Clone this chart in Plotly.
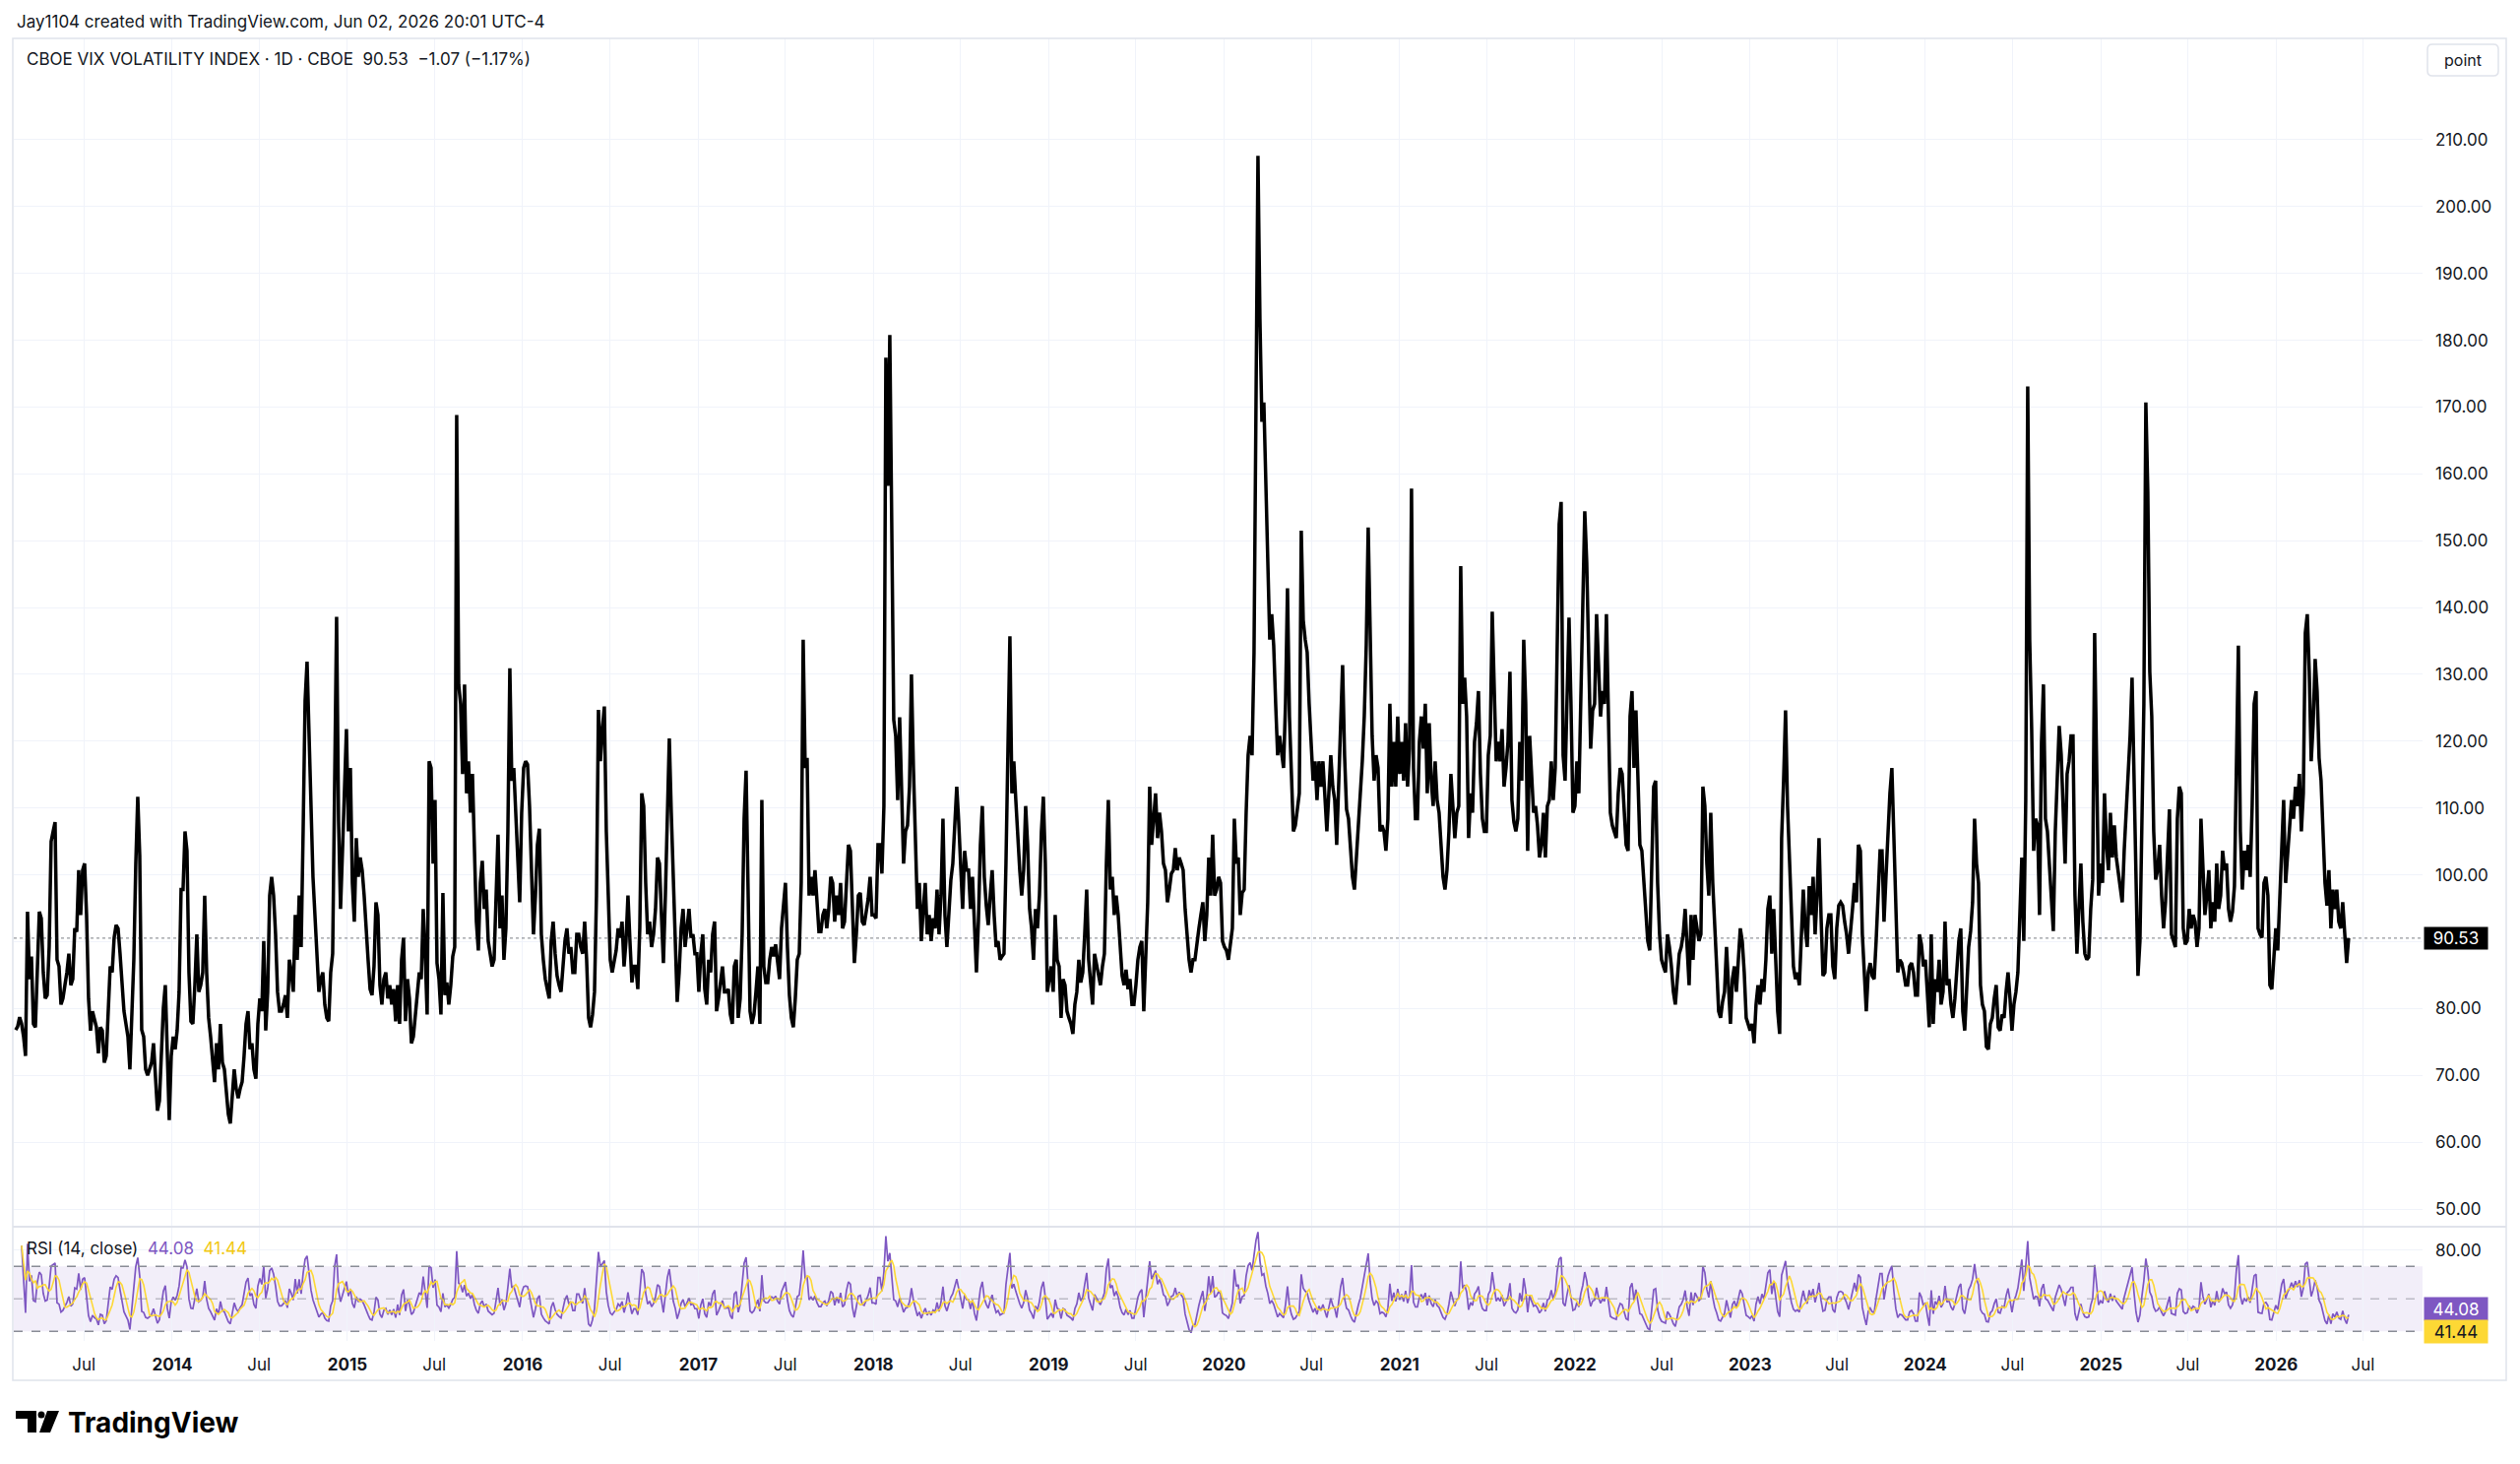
import pandas as pd
import plotly.graph_objects as go
from plotly.subplots import make_subplots

# ---------------- DATA ----------------
# CBOE VIX index close, sampled every ~3 trading days, Feb 2013 -> Jun 2026
vix_2013_2014 = [76.8, 77.3, 78.7, 77.7, 75.8, 72.9, 94.5, 84.4, 87.8, 77.7, 77.2, 87.3, 94.5, 93.5, 85.4, 81.5,
                 82.0, 89.2, 105.0, 106.5, 107.9, 87.3, 86.3, 80.6, 81.5, 83.5, 85.4, 88.2, 83.5, 84.4, 92.0, 91.5,
                 100.7, 94.0, 100.7, 101.7, 94.0, 81.5, 76.7, 79.6, 78.1, 77.2, 73.3, 77.2, 76.7, 71.9, 72.9, 78.6,
                 86.3, 85.4, 90.6, 92.5, 92.0, 88.2, 83.5, 79.6, 77.7, 75.8, 70.9, 77.7, 87.3, 101.7, 111.7, 102.9,
                 76.8, 75.8, 70.9, 70.0, 70.9, 71.9, 74.8, 70.0, 64.7, 66.2, 72.9, 80.1, 83.5, 70.9, 63.3, 72.9,
                 75.8, 73.9, 76.7, 82.5, 97.8, 97.8, 106.5, 103.6, 85.4, 78.1, 77.7, 83.5, 91.1, 82.5, 83.5, 85.4,
                 96.9, 85.4, 78.6, 75.8, 71.9, 69.0, 74.8, 70.9, 77.7, 71.9, 70.9, 67.1, 64.2, 62.8, 66.2, 70.9,
                 68.0, 66.6, 68.0, 69.0, 72.9, 77.7, 79.6, 73.9, 74.8, 70.9, 69.5, 77.7, 81.5, 79.6, 90.1, 76.7,
                 82.5, 96.9, 99.7, 96.9, 91.1, 82.5, 79.6, 79.6, 80.6, 82.0, 78.6, 87.3, 85.4, 82.5, 94.0, 87.3,
                 96.9, 89.2, 106.5, 126.0, 131.9, 120.8, 108.4, 99.7]
vix_2014_2016 = [94.0, 89.2, 82.5, 84.4, 85.4, 80.6, 78.6, 78.1, 85.4, 88.2, 117.9, 138.6, 108.0, 94.9, 103.6, 115.1,
                 121.8, 106.5, 116.0, 98.8, 93.0, 105.5, 99.7, 102.6, 100.7, 96.9, 91.1, 87.3, 82.9, 82.0, 86.3, 95.9,
                 94.0, 83.5, 80.6, 84.4, 85.4, 81.5, 83.5, 80.6, 82.9, 78.1, 83.5, 77.7, 87.3, 90.6, 78.1, 84.4,
                 81.5, 74.8, 75.8, 78.6, 82.5, 85.4, 84.4, 94.9, 88.2, 79.1, 117.0, 116.0, 101.7, 111.2, 86.8, 84.4,
                 79.1, 97.3, 82.0, 83.9, 80.6, 83.5, 87.8, 89.2, 168.8, 128.5, 125.6, 115.1, 128.5, 112.2, 117.0, 109.3,
                 115.1, 101.7, 93.0, 88.7, 98.8, 102.1, 94.9, 97.8, 90.1, 88.2, 86.3, 87.3, 96.9, 106.0, 92.0, 96.9,
                 87.3, 92.0, 106.5, 130.9, 114.1, 116.0, 109.3, 102.6, 95.9, 109.3, 116.0, 117.0, 116.5, 110.3, 99.3, 91.1,
                 96.9, 104.5, 106.9, 91.1, 87.3, 84.4, 82.9, 81.5, 90.1, 93.0, 88.2, 84.9, 83.5, 82.5, 86.3, 90.1,
                 92.0, 88.2, 89.2, 85.4, 85.4, 91.1, 91.1, 89.2, 88.2, 93.0, 87.3, 78.6, 77.2, 79.1, 82.5, 96.9,
                 124.7, 117.0, 121.8, 125.2, 106.5, 94.9]
vix_2016_2018 = [87.3, 85.4, 87.3, 88.7, 92.0, 90.6, 93.0, 86.3, 90.1, 96.9, 90.1, 83.9, 86.3, 86.3, 82.9, 92.0,
                 112.2, 110.3, 98.8, 91.1, 93.0, 89.2, 91.1, 94.9, 102.6, 101.7, 94.0, 86.8, 96.9, 111.2, 120.4, 109.3,
                 98.3, 92.0, 81.0, 85.4, 92.0, 94.9, 89.2, 92.0, 94.9, 90.6, 91.1, 88.2, 88.2, 82.5, 88.2, 91.1,
                 82.9, 80.6, 87.3, 85.4, 91.1, 93.0, 79.6, 81.5, 84.4, 86.3, 82.5, 82.5, 82.9, 79.1, 77.7, 86.3,
                 87.3, 78.6, 81.5, 91.1, 108.4, 115.6, 97.8, 79.6, 77.7, 79.1, 82.5, 86.3, 77.7, 111.2, 86.3, 83.9,
                 83.9, 87.3, 89.2, 87.8, 89.6, 86.3, 84.4, 92.0, 95.9, 98.8, 89.2, 82.0, 78.6, 77.2, 81.5, 87.3,
                 88.2, 98.8, 135.2, 116.0, 117.5, 96.9, 99.7, 96.9, 100.7, 94.9, 91.5, 91.5, 94.0, 94.9, 92.0, 94.9,
                 99.7, 98.8, 93.0, 96.9, 94.0, 98.8, 92.0, 93.0, 99.7, 104.5, 103.6, 93.0, 86.8, 91.1, 96.9, 97.3,
                 93.0, 92.5, 94.5, 96.4, 99.7, 94.0, 94.0, 93.5, 104.5, 104.5, 100.2, 110.3, 177.4, 158.2, 180.8, 154.4,
                 123.2, 120.8, 111.2, 123.6, 114.1, 101.7]
vix_2018_2019 = [106.5, 107.4, 113.2, 130.0, 116.0, 106.5, 94.9, 98.8, 90.1, 94.9, 98.8, 91.1, 94.0, 90.1, 93.5, 92.0,
                 97.8, 91.1, 96.9, 108.4, 94.0, 89.2, 94.9, 99.2, 101.7, 106.5, 113.2, 107.9, 101.7, 94.9, 103.6, 100.7,
                 100.7, 94.9, 99.7, 91.1, 85.4, 93.0, 104.5, 110.3, 99.7, 95.4, 92.5, 96.9, 100.7, 94.0, 89.2, 90.1,
                 87.3, 87.8, 88.2, 101.7, 116.0, 135.7, 112.2, 117.0, 111.2, 105.5, 100.7, 96.9, 100.7, 110.3, 104.5, 94.9,
                 92.0, 87.3, 94.9, 92.0, 96.9, 106.5, 111.7, 101.7, 82.5, 84.4, 86.3, 82.5, 94.0, 87.3, 86.3, 78.6,
                 84.4, 83.5, 79.6, 78.6, 77.7, 76.2, 80.6, 82.5, 87.3, 83.9, 85.4, 91.1, 97.8, 87.3, 83.5, 80.6,
                 88.2, 86.8, 84.9, 83.5, 86.3, 88.2, 101.7, 111.2, 97.8, 99.7, 94.0, 96.9, 94.0, 88.2, 84.9, 83.5,
                 85.8, 82.9, 84.4, 80.6, 80.6, 83.5, 87.3, 89.2, 90.1, 79.6, 87.3, 95.9, 113.2, 104.5, 108.4, 112.2,
                 105.5, 109.3, 106.5, 101.7, 100.7, 95.9, 97.8, 100.2, 100.7, 104.0, 100.7, 102.6, 101.7, 100.7, 94.9, 91.1,
                 87.3, 85.4, 87.3, 87.3, 90.1, 92.0]
vix_2019_2021 = [94.0, 95.9, 90.1, 94.0, 102.6, 96.9, 106.0, 96.9, 97.8, 99.7, 98.8, 90.1, 89.2, 88.7, 87.3, 90.1,
                 92.0, 108.4, 101.7, 102.6, 94.0, 97.3, 97.8, 109.3, 117.9, 120.8, 117.9, 133.3, 165.9, 207.6, 183.2, 167.8,
                 170.7, 157.3, 148.6, 135.2, 139.0, 134.3, 125.6, 117.9, 120.8, 117.9, 116.0, 125.6, 142.9, 123.7, 113.2, 106.5,
                 107.4, 109.8, 112.2, 151.5, 138.1, 135.2, 133.3, 125.6, 118.9, 114.1, 117.0, 111.2, 117.0, 113.2, 117.0, 111.2,
                 106.5, 112.2, 117.9, 113.2, 111.2, 104.5, 113.2, 123.7, 131.4, 117.9, 109.8, 108.4, 103.6, 99.7, 97.8, 102.6,
                 106.5, 110.3, 117.0, 123.7, 134.3, 152.0, 135.2, 120.8, 114.1, 117.9, 116.0, 106.5, 107.4, 106.5, 103.6, 108.4,
                 125.6, 113.2, 119.9, 113.2, 123.7, 115.1, 119.9, 114.1, 122.7, 113.2, 118.9, 157.8, 116.0, 108.4, 108.4, 119.9,
                 123.7, 118.9, 125.6, 112.2, 122.7, 114.1, 110.3, 117.0, 111.2, 109.3, 104.5, 99.7, 97.8, 100.7, 106.5, 115.1,
                 110.3, 105.5, 109.3, 110.3, 146.2, 125.6, 129.5, 123.7, 105.5, 112.2, 109.3, 119.9, 122.7, 127.5, 115.1, 108.4,
                 106.5, 106.5, 117.9, 120.8, 139.4, 127.5]
vix_2021_2023 = [117.0, 119.9, 117.0, 121.8, 113.2, 116.0, 119.9, 130.4, 111.2, 107.9, 106.5, 108.4, 119.9, 114.1, 135.2, 125.6,
                 103.6, 120.8, 116.0, 109.3, 110.3, 107.4, 102.6, 104.5, 109.3, 102.6, 110.3, 111.2, 117.0, 111.2, 116.0, 135.2,
                 152.5, 155.8, 117.9, 114.1, 126.6, 138.5, 125.6, 109.3, 110.3, 117.0, 112.2, 125.6, 135.2, 154.4, 146.7, 130.4,
                 118.9, 124.6, 125.6, 139.0, 129.5, 123.7, 127.5, 125.6, 139.0, 126.6, 109.3, 107.4, 106.5, 105.5, 112.2, 116.0,
                 115.1, 110.3, 104.5, 103.6, 123.7, 127.5, 116.0, 124.6, 116.0, 104.5, 103.6, 98.8, 94.9, 90.1, 88.7, 101.7,
                 113.2, 114.1, 98.8, 91.1, 87.3, 86.3, 85.4, 91.1, 89.2, 86.3, 82.5, 80.6, 84.4, 88.2, 89.2, 91.1,
                 94.9, 88.2, 83.5, 94.0, 87.3, 94.0, 92.0, 90.1, 91.1, 113.2, 110.3, 101.7, 96.9, 109.3, 98.8, 91.1,
                 86.3, 79.6, 78.6, 81.0, 82.5, 89.2, 83.5, 77.7, 84.4, 86.3, 82.5, 87.3, 92.0, 90.1, 85.4, 78.6,
                 77.7, 76.7, 77.7, 74.8, 80.6, 83.5, 80.6, 84.4, 82.5, 87.3, 94.9, 96.9, 88.2, 94.9, 87.3, 79.6,
                 76.2, 105.5, 114.1, 124.6, 110.3, 101.7]
vix_2023_2024 = [93.0, 86.3, 84.4, 85.4, 83.5, 91.1, 97.8, 92.0, 89.2, 98.3, 94.0, 99.7, 91.1, 96.9, 105.5, 94.0,
                 84.9, 85.4, 92.0, 94.0, 94.0, 86.3, 84.4, 92.0, 95.4, 95.9, 95.4, 93.0, 91.1, 88.2, 91.1, 94.9,
                 98.8, 95.9, 104.5, 103.6, 91.1, 85.4, 79.6, 85.4, 86.8, 84.9, 84.4, 90.1, 96.9, 103.6, 103.6, 93.0,
                 99.7, 107.4, 112.2, 116.0, 104.5, 93.0, 85.4, 87.3, 86.8, 85.4, 83.5, 83.5, 86.3, 86.8, 85.4, 82.0,
                 82.0, 91.1, 89.6, 86.3, 87.3, 82.5, 77.2, 91.1, 77.7, 84.4, 82.5, 87.3, 80.6, 82.5, 93.0, 83.5,
                 84.4, 80.6, 78.6, 81.5, 86.3, 90.1, 92.0, 79.6, 76.7, 82.5, 89.2, 91.6, 95.9, 108.4, 101.7, 98.8,
                 83.5, 80.6, 79.6, 74.3, 73.9, 77.7, 78.6, 81.5, 83.5, 77.2, 76.7, 79.1, 78.6, 82.5, 85.4, 81.5,
                 76.7, 80.6, 82.5, 85.4, 94.0, 102.6, 90.1, 111.2, 173.1, 135.2, 121.8, 103.6, 108.4, 107.4, 94.0, 119.9,
                 128.5, 108.4, 106.5, 101.7, 96.9, 91.6, 106.5, 115.1, 122.3, 118.0, 111.2, 101.7, 115.1, 117.0, 120.8, 120.8,
                 96.9, 88.2, 94.9, 101.7, 93.0, 88.2]
vix_2024_2026 = [87.3, 87.7, 94.9, 99.3, 136.2, 119.9, 96.9, 101.7, 98.8, 112.2, 104.5, 100.7, 109.3, 102.6, 107.4, 102.6,
                 100.2, 98.3, 95.9, 103.6, 109.3, 115.1, 120.8, 129.5, 114.1, 96.9, 84.9, 90.1, 106.5, 125.6, 170.7, 157.3,
                 130.4, 123.7, 106.5, 99.3, 100.7, 104.5, 96.9, 92.0, 95.9, 102.6, 109.8, 91.1, 90.1, 89.2, 108.4, 113.2,
                 112.2, 92.0, 89.6, 90.1, 94.9, 92.0, 94.0, 93.0, 89.2, 92.0, 108.4, 99.7, 94.0, 96.9, 100.7, 92.0,
                 95.9, 93.0, 101.7, 94.9, 96.9, 103.6, 100.7, 101.7, 94.9, 93.0, 94.5, 98.3, 116.0, 134.3, 106.5, 97.8,
                 103.6, 100.7, 104.5, 99.7, 110.3, 125.6, 127.5, 92.0, 91.1, 90.6, 98.8, 99.7, 96.9, 83.5, 82.9, 87.3,
                 92.0, 88.7, 96.9, 106.5, 111.2, 98.8, 103.6, 106.5, 111.2, 108.4, 113.2, 110.3, 115.1, 106.5, 112.2, 136.2,
                 139.0, 130.4, 117.0, 122.7, 132.3, 127.5, 117.5, 114.1, 107.4, 98.8, 95.4, 100.7, 92.0, 97.8, 94.9, 97.8,
                 93.0, 92.0, 95.9, 90.1, 86.8, 90.53]

segments = [vix_2013_2014, vix_2014_2016, vix_2016_2018, vix_2018_2019,
            vix_2019_2021, vix_2021_2023, vix_2023_2024, vix_2024_2026]
expected = [152, 150, 150, 150, 150, 150, 150, 134]
for seg, n in zip(segments, expected):
    assert len(seg) == n, (len(seg), n)

close = [v for seg in segments for v in seg]
first_date, last_date = "2013-02-09", "2026-06-01"

price_ticks = [50, 60, 70, 80, 90, 100, 110, 120, 130, 140, 150, 160, 170, 180, 190, 200, 210]
last_close, change, change_pct = 90.53, -1.07, -1.17
rsi_last, rsi_ma_last = 44.08, 41.44
time_tick_dates = ["2013-07-01", "2014-01-01", "2014-07-01", "2015-01-01", "2015-07-01", "2016-01-01",
                   "2016-07-01", "2017-01-01", "2017-07-01", "2018-01-01", "2018-07-01", "2019-01-01",
                   "2019-07-01", "2020-01-01", "2020-07-01", "2021-01-01", "2021-07-01", "2022-01-01",
                   "2022-07-01", "2023-01-01", "2023-07-01", "2024-01-01", "2024-07-01", "2025-01-01",
                   "2025-07-01", "2026-01-01", "2026-07-01"]
time_tick_labels = ["Jul", "2014", "Jul", "2015", "Jul", "2016", "Jul", "2017", "Jul", "2018", "Jul", "2019",
                    "Jul", "2020", "Jul", "2021", "Jul", "2022", "Jul", "2023", "Jul", "2024", "Jul", "2025",
                    "Jul", "2026", "Jul"]

# ---------------- derived indicator: RSI of close + its moving average ----------------
dates = pd.date_range(first_date, last_date, periods=len(close))
s = pd.Series(close)
d = s.diff()
n_rsi = 9   # Wilder period in samples (data is sampled every ~3 trading days)
n_ma = 5
up = d.clip(lower=0).ewm(alpha=1 / n_rsi, adjust=False).mean()
dn = (-d).clip(lower=0).ewm(alpha=1 / n_rsi, adjust=False).mean()
rsi = 100 - 100 / (1 + up / dn)
rsi.iloc[:3] = None          # warm-up samples
rsi_ma = rsi.rolling(n_ma, min_periods=1).mean()

# ---------------- layout geometry ----------------
W, H = 2560, 1487
L, R, T, B = 14, 2461, 39, 1362
SEP = 1246


def px(x):
    return (x - L) / (R - L)


def py(y):
    return (B - y) / (B - T)


FONT = "Inter, Roboto, 'Noto Sans', sans-serif"
TXT = "#131722"
GRID = "#f0f3fa"
PURPLE = "#7E57C2"
YELLOW = "#FDD835"

fig = make_subplots(rows=2, cols=1, shared_xaxes=True, vertical_spacing=0,
                    row_heights=[SEP - T, B - SEP])

fig.add_trace(go.Scatter(x=dates, y=close, mode="lines",
                         line=dict(color="#000000", width=3.5), hoverinfo="skip"), row=1, col=1)
fig.add_trace(go.Scatter(x=dates, y=rsi, mode="lines",
                         line=dict(color=PURPLE, width=1.7), hoverinfo="skip"), row=2, col=1)
fig.add_trace(go.Scatter(x=dates, y=rsi_ma, mode="lines",
                         line=dict(color=YELLOW, width=1.6), hoverinfo="skip"), row=2, col=1)

xrange = ["2013-02-05", "2026-11-02"]
tick_text = [f"<b>{t}</b>" if t != "Jul" else t for t in time_tick_labels]
fig.update_xaxes(range=xrange, tickvals=time_tick_dates, ticktext=tick_text, showgrid=True,
                 gridcolor=GRID, gridwidth=1, zeroline=False, showline=False, ticks="",
                 tickfont=dict(family=FONT, size=17, color=TXT), ticklabelstandoff=12)
fig.update_xaxes(showticklabels=False, row=1, col=1)

fig.update_yaxes(row=1, col=1, side="right", range=[47.35, 225.17], tickvals=price_ticks,
                 ticktext=["" if v == 90 else f"{v:.2f}" for v in price_ticks],
                 showgrid=True, gridcolor=GRID, zeroline=False, showline=False, ticks="",
                 tickfont=dict(family=FONT, size=17, color=TXT), ticklabelstandoff=12)
fig.update_yaxes(row=2, col=1, side="right", range=[24.1, 94.4], tickvals=[80], ticktext=["80.00"],
                 showgrid=True, gridcolor=GRID, zeroline=False, showline=False, ticks="",
                 tickfont=dict(family=FONT, size=17, color=TXT), ticklabelstandoff=12)

shapes = []
# RSI band & levels
shapes.append(dict(type="rect", xref="x2 domain", yref="y2", x0=0, x1=1, y0=30, y1=70,
                   fillcolor="rgba(126,87,194,0.10)", line=dict(width=0), layer="below"))
for lvl, col in [(70, "#8a8d96"), (50, "rgba(120,123,134,0.45)"), (30, "#8a8d96")]:
    shapes.append(dict(type="line", xref="x2 domain", yref="y2", x0=0, x1=1, y0=lvl, y1=lvl,
                       line=dict(color=col, width=1.3, dash="dash")))
# last price dotted line
shapes.append(dict(type="line", xref="x domain", yref="y", x0=0, x1=1, y0=last_close, y1=last_close,
                   line=dict(color="rgba(19,23,34,0.55)", width=1, dash="dot")))
# frame + pane separator
frame_col = "#e0e3eb"
shapes.append(dict(type="rect", xref="paper", yref="paper", x0=px(13), x1=px(2546), y0=py(39), y1=py(1402),
                   line=dict(color=frame_col, width=1.5), fillcolor="rgba(0,0,0,0)"))
shapes.append(dict(type="line", xref="paper", yref="paper", x0=px(13), x1=px(2546), y0=py(SEP), y1=py(SEP),
                   line=dict(color=frame_col, width=2)))
# "point" button (rounded rect)
bx0, bx1, by0, by1, rr = 2466, 2538, 45, 77, 5
path = (f"M {px(bx0 + rr)},{py(by0)} L {px(bx1 - rr)},{py(by0)} Q {px(bx1)},{py(by0)} {px(bx1)},{py(by0 + rr)} "
        f"L {px(bx1)},{py(by1 - rr)} Q {px(bx1)},{py(by1)} {px(bx1 - rr)},{py(by1)} "
        f"L {px(bx0 + rr)},{py(by1)} Q {px(bx0)},{py(by1)} {px(bx0)},{py(by1 - rr)} "
        f"L {px(bx0)},{py(by0 + rr)} Q {px(bx0)},{py(by0)} {px(bx0 + rr)},{py(by0)} Z")
shapes.append(dict(type="path", xref="paper", yref="paper", path=path,
                   line=dict(color=frame_col, width=1.5), fillcolor="white"))
# TradingView logo mark
shapes.append(dict(type="rect", xref="paper", yref="paper", x0=px(16), x1=px(37), y0=py(1441), y1=py(1433),
                   fillcolor="#000", line=dict(width=0)))
shapes.append(dict(type="rect", xref="paper", yref="paper", x0=px(28), x1=px(37), y0=py(1455), y1=py(1433),
                   fillcolor="#000", line=dict(width=0)))
shapes.append(dict(type="circle", xref="paper", yref="paper", x0=px(38.5), x1=px(45.5), y0=py(1440.5), y1=py(1433.5),
                   fillcolor="#000", line=dict(width=0)))
shapes.append(dict(type="path", xref="paper", yref="paper",
                   path=f"M {px(48)},{py(1433)} L {px(60)},{py(1433)} L {px(51)},{py(1455)} L {px(40)},{py(1455)} Z",
                   fillcolor="#000", line=dict(width=0)))

ann = []
ann.append(dict(xref="paper", yref="paper", x=px(15), y=py(22), xanchor="left", yanchor="middle",
                text="Jay1104 created with TradingView.com, Jun 02, 2026 20:01 UTC-4", showarrow=False,
                font=dict(family=FONT, size=17, color=TXT)))
legend_txt = (f"CBOE VIX VOLATILITY INDEX · 1D · CBOE\u00a0\u00a0{last_close:.2f}\u00a0\u00a0"
              f"\u2212{abs(change):.2f} (\u2212{abs(change_pct):.2f}%)")
ann.append(dict(xref="paper", yref="paper", x=px(25), y=py(60), xanchor="left", yanchor="middle",
                text=legend_txt, showarrow=False, font=dict(family=FONT, size=17, color=TXT)))
ann.append(dict(xref="paper", yref="paper", x=px(2502), y=py(61), xanchor="center", yanchor="middle",
                text="point", showarrow=False, font=dict(family=FONT, size=16, color=TXT)))
ann.append(dict(xref="paper", yref="paper", x=px(25), y=py(1268), xanchor="left", yanchor="middle",
                text=(f"RSI (14, close)\u00a0\u00a0<span style='color:{PURPLE}'>{rsi_last:.2f}</span>"
                      f"\u00a0\u00a0<span style='color:#F2C811'>{rsi_ma_last:.2f}</span>"),
                showarrow=False, font=dict(family=FONT, size=17, color=TXT)))
# last value tags on the price scale
ann.append(dict(xref="paper", yref="y", x=1, y=last_close, xanchor="left", yanchor="middle", xshift=1,
                text=f"{last_close:.2f}", showarrow=False, bgcolor="#000000", width=62, height=20, borderpad=1,
                font=dict(family=FONT, size=17, color="#ffffff")))
ann.append(dict(xref="paper", yref="y2", x=1, y=rsi_last, xanchor="left", yanchor="middle", xshift=1,
                text=f"{rsi_last:.2f}", showarrow=False, bgcolor=PURPLE, width=62, height=21, borderpad=1,
                font=dict(family=FONT, size=17, color="#ffffff")))
ann.append(dict(xref="paper", yref="y2", x=1, y=rsi_ma_last, xanchor="left", yanchor="middle", xshift=1,
                yshift=-19, text=f"{rsi_ma_last:.2f}", showarrow=False, bgcolor=YELLOW, width=62, height=21,
                borderpad=1, font=dict(family=FONT, size=17, color="#131722")))
# TradingView wordmark
ann.append(dict(xref="paper", yref="paper", x=px(67), y=py(1445), xanchor="left", yanchor="middle",
                text="<b>TradingView</b>", showarrow=False, font=dict(family=FONT, size=28, color="#000000")))

fig.update_layout(width=W, height=H, autosize=False,
                  margin=dict(l=L, r=W - R, t=T, b=H - B, pad=0),
                  paper_bgcolor="white", plot_bgcolor="white", showlegend=False, hovermode=False,
                  shapes=shapes, annotations=ann, font=dict(family=FONT, color=TXT))

fig.write_html("out.html", config={"displayModeBar": False, "staticPlot": True},
               post_script="document.body.style.margin='0';document.body.style.overflow='hidden';")
